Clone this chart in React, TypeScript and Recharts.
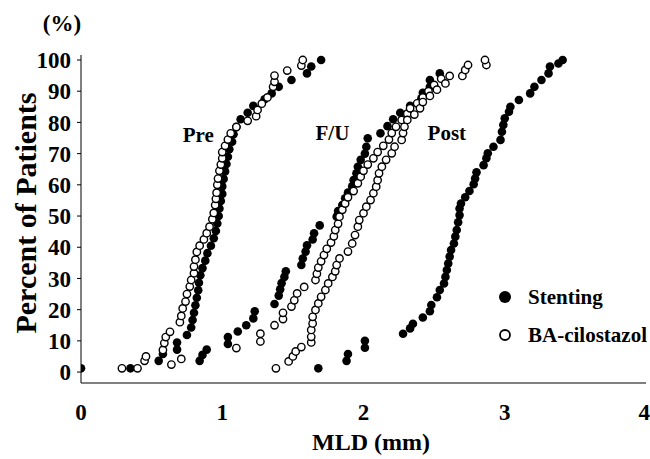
import { ScatterChart, Scatter, XAxis, YAxis, ReferenceDot } from 'recharts'

const FONT = '"Liberation Serif", "Times New Roman", serif'

type Pt = [number, number] // [MLD mm, cumulative %]

const xTicks = [0, 1, 2, 3, 4]
const yTicks = [0, 10, 20, 30, 40, 50, 60, 70, 80, 90, 100]

// Stenting (filled markers)
const preStenting: Pt[] = [
  [0.0, 1.2], [0.35, 1.2], [0.55, 3.6], [0.58, 5.8], [0.68, 7.2], [0.68, 9.5], [0.75, 11.9],
  [0.78, 14.3], [0.79, 16.7], [0.8, 19.0], [0.81, 21.4], [0.82, 23.8], [0.83, 26.2], [0.835, 28.6],
  [0.845, 31.0], [0.86, 33.3], [0.88, 35.7], [0.895, 38.1], [0.92, 40.5], [0.94, 42.9], [0.955, 45.2],
  [0.965, 47.6], [0.975, 50.0], [0.98, 52.4], [0.99, 54.8], [1.0, 57.1], [1.0, 59.5], [1.01, 61.9],
  [1.02, 64.3], [1.03, 66.7], [1.04, 69.0], [1.05, 71.4], [1.07, 73.8], [1.08, 76.2], [1.1, 78.6],
  [1.13, 81.0], [1.18, 83.1], [1.22, 85.3], [1.3, 87.4], [1.35, 89.3], [1.4, 91.4], [1.49, 93.6],
  [1.6, 95.7], [1.63, 97.9], [1.7, 100],
]
const fuStenting: Pt[] = [
  [0.84, 3.6], [0.86, 5.5], [0.89, 7.2], [1.04, 9.0], [1.04, 11.2], [1.11, 13.0], [1.17, 15.0],
  [1.22, 17.2], [1.23, 19.5], [1.37, 21.8], [1.4, 24.5], [1.41, 26.5], [1.42, 28.5], [1.44, 30.5],
  [1.45, 32.3], [1.56, 34.3], [1.57, 36.4], [1.59, 38.6], [1.6, 40.6], [1.64, 42.5], [1.65, 44.5],
  [1.69, 47.0], [1.81, 49.8], [1.82, 51.6], [1.85, 53.5], [1.87, 55.7], [1.89, 57.5], [1.92, 59.5],
  [1.93, 61.5], [1.95, 63.7], [1.96, 65.8], [1.98, 68.0], [2.01, 70.0], [2.02, 72.2], [2.03, 74.9],
  [2.12, 76.5], [2.17, 78.8], [2.21, 81.0], [2.26, 83.1], [2.33, 85.3], [2.41, 87.7], [2.42, 89.5],
  [2.47, 91.4], [2.47, 93.6], [2.54, 95.7],
]
const postStenting: Pt[] = [
  [1.68, 1.2], [1.88, 3.6], [1.89, 5.8], [2.01, 7.8], [2.01, 10.0], [2.28, 12.3], [2.33, 14.0],
  [2.35, 15.5], [2.42, 17.5], [2.47, 19.5], [2.48, 21.5], [2.52, 24.0], [2.54, 26.3], [2.57, 28.4],
  [2.58, 30.5], [2.59, 32.7], [2.6, 34.8], [2.61, 37.0], [2.62, 39.1], [2.64, 41.2], [2.65, 43.4],
  [2.66, 45.5], [2.67, 48.0], [2.68, 50.3], [2.68, 52.4], [2.69, 54.0], [2.72, 56.0], [2.75, 58.0],
  [2.78, 60.2], [2.79, 62.0], [2.8, 64.0], [2.85, 66.3], [2.87, 68.5], [2.88, 70.1], [2.92, 72.2],
  [2.97, 74.4], [2.98, 77.0], [2.99, 79.2], [3.0, 81.3], [3.03, 83.4], [3.04, 85.0], [3.1, 87.2],
  [3.18, 89.3], [3.21, 91.4], [3.26, 93.6], [3.31, 95.7], [3.32, 97.9], [3.38, 98.9], [3.41, 100],
]

// BA-cilostazol (open markers)
const preBA: Pt[] = [
  [0.29, 1.2], [0.4, 1.2], [0.45, 3.6], [0.46, 5.0], [0.58, 7.1], [0.59, 9.3], [0.6, 11.2],
  [0.63, 12.9], [0.7, 16.0], [0.71, 18.0], [0.72, 20.4], [0.74, 22.6], [0.75, 25.0], [0.77, 27.4],
  [0.78, 29.5], [0.8, 31.7], [0.8, 33.8], [0.81, 36.0], [0.82, 38.5], [0.84, 40.5], [0.87, 42.5],
  [0.89, 44.5], [0.91, 46.6], [0.93, 49.0], [0.94, 51.0], [0.95, 53.5], [0.955, 55.5], [0.96, 57.5],
  [0.965, 60.0], [0.97, 62.0], [0.98, 64.5], [0.99, 66.5], [1.0, 68.5], [1.0, 70.5], [1.02, 72.5],
  [1.04, 74.5], [1.06, 76.5], [1.1, 78.5], [1.18, 80.5], [1.24, 82.0], [1.25, 84.0], [1.28, 86.0],
  [1.32, 88.0], [1.36, 91.4], [1.37, 93.0], [1.37, 95.0], [1.46, 96.6], [1.56, 98.2], [1.57, 100],
]
const fuBA: Pt[] = [
  [0.64, 2.4], [0.71, 4.2], [1.1, 7.7], [1.27, 9.8], [1.27, 12.3], [1.37, 15.0], [1.43, 17.0],
  [1.43, 19.0], [1.49, 21.0], [1.51, 23.0], [1.53, 25.2], [1.58, 27.3], [1.66, 29.5], [1.67, 31.5],
  [1.68, 33.5], [1.7, 35.5], [1.72, 37.5], [1.74, 39.5], [1.77, 41.5], [1.79, 43.5], [1.8, 45.5],
  [1.82, 47.5], [1.83, 49.8], [1.85, 52.0], [1.87, 54.0], [1.89, 56.0], [1.93, 58.0], [1.96, 60.5],
  [1.98, 62.6], [2.0, 64.5], [2.03, 66.5], [2.07, 68.5], [2.1, 70.5], [2.14, 72.5], [2.18, 74.5],
  [2.2, 76.6], [2.23, 78.6], [2.27, 80.8], [2.31, 82.8], [2.33, 84.5], [2.38, 86.1], [2.42, 88.0],
  [2.46, 90.0], [2.5, 92.0], [2.55, 94.0],
]
const postBA: Pt[] = [
  [1.38, 1.2], [1.47, 3.4], [1.5, 5.0], [1.52, 6.6], [1.56, 8.0], [1.63, 9.5], [1.63, 11.3],
  [1.63, 13.5], [1.64, 15.6], [1.64, 17.7], [1.66, 19.9], [1.68, 22.0], [1.7, 24.1], [1.73, 26.3],
  [1.75, 28.4], [1.78, 30.5], [1.8, 32.3], [1.81, 34.3], [1.83, 36.4], [1.89, 38.6], [1.92, 41.2],
  [1.94, 43.9], [1.96, 46.6], [1.97, 48.7], [2.0, 50.9], [2.02, 53.0], [2.05, 55.1], [2.07, 57.3],
  [2.09, 59.4], [2.1, 61.5], [2.11, 63.7], [2.13, 65.8], [2.16, 68.0], [2.2, 70.1], [2.22, 72.2],
  [2.27, 74.4], [2.28, 76.6], [2.29, 78.6], [2.31, 80.8], [2.36, 82.5], [2.4, 84.5], [2.42, 86.5],
  [2.47, 88.5], [2.52, 90.5], [2.58, 92.5], [2.61, 94.9], [2.7, 94.9], [2.72, 96.8], [2.74, 98.4],
  [2.87, 98.4], [2.86, 100],
]

const curveLabels = [
  { text: 'Pre', x: 0.83, y: 76 },
  { text: 'F/U', x: 1.78, y: 76.6 },
  { text: 'Post', x: 2.59, y: 76.6 },
]
const legendItems = [
  { name: 'Stenting', filled: true },
  { name: 'BA-cilostazol', filled: false },
]

const toRows = (pts: Pt[]) => pts.map(([x, y]) => ({ x, y }))

const Filled = (p: any) => <circle cx={p.cx} cy={p.cy} r={4.3} fill="#000" />
const Open = (p: any) => <circle cx={p.cx} cy={p.cy} r={3.7} fill="#fff" stroke="#000" strokeWidth={1.4} />

const tickStyle = { fill: '#000', fontSize: 23, fontWeight: 700, fontFamily: FONT }
const textStyle = { fill: '#000', fontWeight: 700, fontFamily: FONT }

export default function App() {
  return (
    <div style={{ position: 'absolute', left: 0, top: 0, width: 650, height: 459, background: '#fff' }}>
      <ScatterChart width={650} height={459} margin={{ top: 55, right: 4, bottom: 0, left: 0 }}>
        <XAxis
          type="number"
          dataKey="x"
          domain={[0, 4]}
          ticks={xTicks}
          allowDataOverflow
          height={76}
          tickLine={false}
          tickMargin={15}
          axisLine={{ stroke: '#000' }}
          tick={tickStyle}
          label={{
            content: () => (
              <text x={371} y={450} textAnchor="middle" fontSize={24} {...textStyle}>
                MLD (mm)
              </text>
            ),
          }}
        />
        <YAxis
          type="number"
          dataKey="y"
          domain={[-3.5, 101.6]}
          ticks={yTicks}
          allowDataOverflow
          width={81}
          tickSize={4}
          tickMargin={6}
          axisLine={{ stroke: '#000' }}
          tickLine={{ stroke: '#000' }}
          tick={tickStyle}
          label={{
            content: () => (
              <text
                x={25}
                y={213}
                transform="rotate(-90 25 213)"
                textAnchor="middle"
                dominantBaseline="central"
                fontSize={30}
                {...textStyle}
              >
                Percent of Patients
              </text>
            ),
          }}
        />
        <Scatter data={toRows(preStenting)} shape={Filled} isAnimationActive={false} />
        <Scatter data={toRows(fuStenting)} shape={Filled} isAnimationActive={false} />
        <Scatter data={toRows(postStenting)} shape={Filled} isAnimationActive={false} />
        <Scatter data={toRows(preBA)} shape={Open} isAnimationActive={false} />
        <Scatter data={toRows(fuBA)} shape={Open} isAnimationActive={false} />
        <Scatter data={toRows(postBA)} shape={Open} isAnimationActive={false} />
        {curveLabels.map((l) => (
          <ReferenceDot
            key={l.text}
            x={l.x}
            y={l.y}
            r={0}
            stroke="none"
            ifOverflow="visible"
            label={{ value: l.text, position: 'center', fontSize: 21, ...textStyle }}
          />
        ))}
        <ReferenceDot
          x={-0.135}
          y={112}
          r={0}
          stroke="none"
          ifOverflow="visible"
          label={{ value: '(%)', position: 'center', fontSize: 23, ...textStyle }}
        />
      </ScatterChart>
      <div style={{ position: 'absolute', left: 493, top: 278, fontFamily: FONT, fontWeight: 700, fontSize: 21 }}>
        {legendItems.map((it) => (
          <div key={it.name} style={{ display: 'flex', alignItems: 'center', height: 38 }}>
            <svg width={24} height={16} style={{ marginRight: 11 }}>
              {it.filled ? (
                <circle cx={12} cy={8} r={6} fill="#000" />
              ) : (
                <circle cx={12} cy={8} r={5} fill="#fff" stroke="#000" strokeWidth={1.8} />
              )}
            </svg>
            <span>{it.name}</span>
          </div>
        ))}
      </div>
    </div>
  )
}
